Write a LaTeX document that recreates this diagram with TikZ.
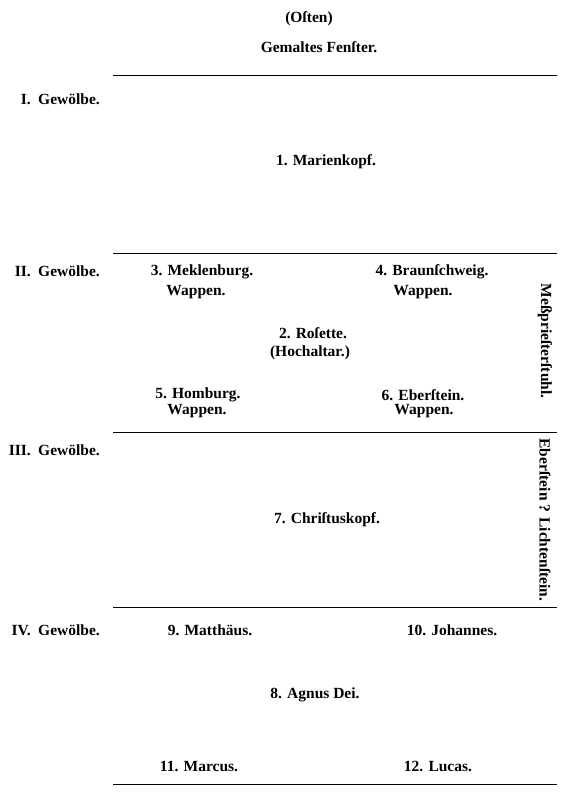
\documentclass[tikz,border=0pt]{standalone}
\usepackage{fontspec}
\setmainfont{Liberation Serif}
\begin{document}
\begin{tikzpicture}[x=1pt,y=-1pt,
  lbl/.style={inner sep=0pt,align=center,font=\fontsize{15.5}{18}\selectfont\bfseries},
  rule/.style={line width=0.9pt}]
\useasboundingbox (0,0) rectangle (570,796);
% horizontal rules
\coordinate (a1) at (113,75);  \coordinate (b1) at (557,75);
\coordinate (a2) at (113,253); \coordinate (b2) at (557,253);
\coordinate (a3) at (113,432); \coordinate (b3) at (557,432);
\coordinate (a4) at (113,607); \coordinate (b4) at (557,607);
\coordinate (a5) at (113,784); \coordinate (b5) at (557,784);
\foreach \i in {1,...,5} \draw[rule] (a\i) -- (b\i);
% header
\node[lbl] (osten) at (309,19) {(Oſten)};
\node[lbl] (fenster) at (319,47) {Gemaltes Fenſter.};
% vaults
\node[lbl,anchor=base east] (n1) at (31,104) {I.};
\node[lbl,anchor=base west] (g1) at (38,104) {Gewölbe.};
\node[lbl,anchor=base east] (n2) at (31,276) {II.};
\node[lbl,anchor=base west] (g2) at (38,276) {Gewölbe.};
\node[lbl,anchor=base east] (n3) at (31,455) {III.};
\node[lbl,anchor=base west] (g3) at (38,455) {Gewölbe.};
\node[lbl,anchor=base east] (n4) at (31,635) {IV.};
\node[lbl,anchor=base west] (g4) at (38,635) {Gewölbe.};
% items
\node[lbl] (m1) at (326,162) {1. Marienkopf.};
\node[lbl] (m3) at (202,272) {3. Meklenburg.};
\node[lbl] (m3w) at (196,292) {Wappen.};
\node[lbl] (m4) at (432,272) {4. Braunſchweig.};
\node[lbl] (m4w) at (423,292) {Wappen.};
\node[lbl] (m2) at (313,333) {2. Roſette.};
\node[lbl] (m2h) at (310,353) {(Hochaltar.)};
\node[lbl] (m5) at (198,395) {5. Homburg.};
\node[lbl] (m5w) at (197,411) {Wappen.};
\node[lbl] (m6) at (423,395) {6. Eberſtein.};
\node[lbl] (m6w) at (424,411) {Wappen.};
\node[lbl] (m7) at (327,520) {7. Chriſtuskopf.};
\node[lbl] (m9) at (210,630) {9. Matthäus.};
\node[lbl] (m10) at (452,630) {10. Johannes.};
\node[lbl] (m8) at (315,695) {8. Agnus Dei.};
\node[lbl] (m11) at (199,766) {11. Marcus.};
\node[lbl] (m12) at (438,766) {12. Lucas.};
% vertical labels
\node[lbl,rotate=-90] (stuhl) at (545,341) {Meßprieſterſtuhl.};
\node[lbl,rotate=-90] (eber) at (545,520) {Eberſtein ? Lichtenſtein.};
\end{tikzpicture}
\end{document}
